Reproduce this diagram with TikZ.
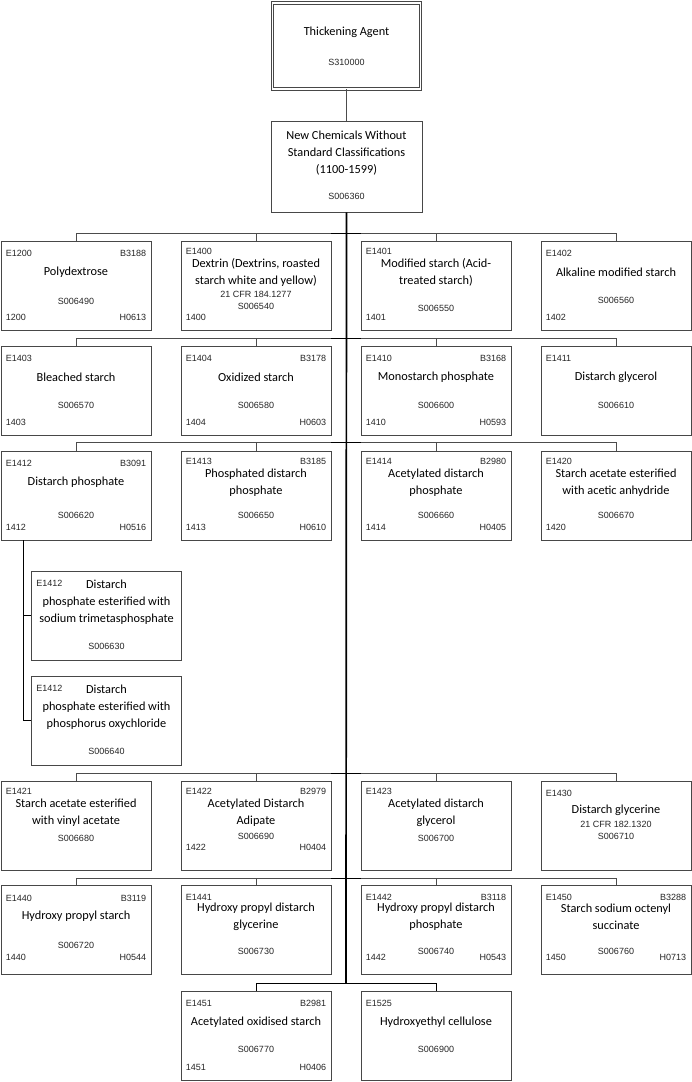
\documentclass[tikz,border=0pt]{standalone}
\usepackage{fontspec}
\setmainfont{Carlito}
\newfontfamily\codefont{Liberation Sans}

\tikzset{
  boxline/.style={draw=black!72, line width=0.9pt},
  entity/.style={boxline, fill=white, minimum width=150pt, minimum height=89pt, inner sep=0pt},
  codetext/.style={font=\codefont\fontsize{9}{10}\selectfont, text=black!85, inner sep=0pt},
  ttl/.style={font=\fontsize{12.3}{17}\selectfont, align=center, inner sep=0pt},
  bus/.style={draw=black!70, line width=0.8pt},
  busdark/.style={draw=black, line width=0.9pt},
  trunk/.style={draw=black, line width=1.7pt},
}

% offsets inside a box, measured from its top (e: codes, t: title, s: S-code) and bottom (n)
\pgfkeys{/ebox/.cd, e/.store in=\eboxE, t/.store in=\eboxT, s/.store in=\eboxS, n/.store in=\eboxN}
\newcommand{\ebox}[9][]{%
  \pgfkeys{/ebox/.cd, e=13, t=32, s=63, n=13, #1}%
  \node[entity] (#2) at (#3) {};
  \node[codetext, anchor=west] (#2-e) at ([xshift=5pt, yshift=-\eboxE pt]#2.north west) {#4};
  \node[codetext, anchor=east] (#2-b) at ([xshift=-5pt, yshift=-\eboxE pt]#2.north east) {#5};
  \node[ttl] (#2-t) at ([yshift=-\eboxT pt]#2.north) {#6};
  \node[codetext] (#2-s) at ([yshift=-\eboxS pt]#2.north) {#7};
  \node[codetext, anchor=west] (#2-n) at ([xshift=5pt, yshift=\eboxN pt]#2.south west) {#8};
  \node[codetext, anchor=east] (#2-h) at ([xshift=-5pt, yshift=\eboxN pt]#2.south east) {#9};
}

\begin{document}
\begin{tikzpicture}[x=1pt, y=-1pt]
  \useasboundingbox (0,0) rectangle (692,1082);

  % --- head of the tree ---
  \node[entity, double=white, double distance=1.5pt, minimum width=148pt, minimum height=86pt]
    (thick) at (346.5,46) {};
  \node[ttl] (thick-t) at ([yshift=-30pt]thick.north) {Thickening Agent};
  \node[codetext] (thick-s) at ([yshift=-60pt]thick.north) {S310000};

  \node[entity, minimum width=151pt, minimum height=91pt] (newchem) at (346.5,166.5) {};
  \node[ttl] (newchem-t) at ([yshift=-33pt]newchem.north)
    {New Chemicals Without\\Standard Classifications\\(1100-1599)};
  \node[codetext] (newchem-s) at ([yshift=-76pt]newchem.north) {S006360};

  % --- bus points on the trunk ---
  \coordinate (bus1) at (346,233);
  \coordinate (bus2) at (346,338);
  \coordinate (bus3) at (346,442);
  \coordinate (bus4) at (346,773);
  \coordinate (bus5) at (346,878);
  \coordinate (bus6) at (346,983);

  % --- row 1 ---
  \ebox[s=61]{polyd}{76,285.5}{E1200}{B3188}{Polydextrose}{S006490}{1200}{H0613}
  \ebox[e=11, s=66]{dextrin}{256,285.5}{E1400}{}{Dextrin (Dextrins, roasted\\starch white and yellow)}{S006540}{1400}{}
  \node[codetext] (dextrin-c) at ([yshift=-54pt]dextrin.north) {21 CFR 184.1277};
  \ebox[e=11, s=68]{modst}{436,285.5}{E1401}{}{Modified starch (Acid-\\treated starch)}{S006550}{1401}{}
  \ebox[s=60]{alkst}{616,285.5}{E1402}{}{Alkaline modified starch}{S006560}{1402}{}

  % --- row 2 ---
  \ebox[s=60]{bleach}{76,390.5}{E1403}{}{Bleached starch}{S006570}{1403}{}
  \ebox[s=60]{oxid}{256,390.5}{E1404}{B3178}{Oxidized starch}{S006580}{1404}{H0603}
  \ebox[s=60]{monoph}{436,390.5}{E1410}{B3168}{Monostarch phosphate}{S006600}{1410}{H0593}
  \ebox[s=60]{dglyol}{616,390.5}{E1411}{}{Distarch glycerol}{S006610}{}{}

  % --- row 3 ---
  \ebox[s=65]{dphos}{76,495.5}{E1412}{B3091}{Distarch phosphate}{S006620}{1412}{H0516}
  \ebox[e=11, s=65]{phdphos}{256,495.5}{E1413}{B3185}{Phosphated distarch\\phosphate}{S006650}{1413}{H0610}
  \ebox[e=11, s=65]{acdphos}{436,495.5}{E1414}{B2980}{Acetylated distarch\\phosphate}{S006660}{1414}{H0405}
  \ebox[e=11, s=65]{acanh}{616,495.5}{E1420}{}{Starch acetate esterified\\with acetic anhydride}{S006670}{1420}{}

  % --- sub-entries of E1412 ---
  \ebox[s=76]{dphosA}{106.5,615.5}{E1412}{}{Distarch\\phosphate esterified with\\sodium trimetasphosphate}{S006630}{}{}
  \ebox[s=76]{dphosB}{106.5,720.5}{E1412}{}{Distarch\\phosphate esterified with\\phosphorus oxychloride}{S006640}{}{}

  % --- row 4 ---
  \ebox[e=11, s=58, n=23]{vinyl}{76,825.5}{E1421}{}{Starch acetate esterified\\with vinyl acetate}{S006680}{}{}
  \ebox[e=11, s=56, n=23]{adip}{256,825.5}{E1422}{B2979}{Acetylated Distarch\\Adipate}{S006690}{1422}{H0404}
  \ebox[e=11, s=58, n=23]{acglyol}{436,825.5}{E1423}{}{Acetylated distarch\\glycerol}{S006700}{}{}
  \ebox[t=30, s=56, n=23]{dglyne}{616,825.5}{E1430}{}{Distarch glycerine}{S006710}{}{}
  \node[codetext] (dglyne-c) at ([yshift=-44pt]dglyne.north) {21 CFR 182.1320};

  % --- row 5 ---
  \ebox[e=14, s=61, n=17]{hpst}{76,929.5}{E1440}{B3119}{Hydroxy propyl starch}{S006720}{1440}{H0544}
  \ebox[s=67, n=17]{hpgly}{256,929.5}{E1441}{}{Hydroxy propyl distarch\\glycerine}{S006730}{}{}
  \ebox[s=67, n=17]{hpphos}{436,929.5}{E1442}{B3118}{Hydroxy propyl distarch\\phosphate}{S006740}{1442}{H0543}
  \ebox[s=67, n=17]{octen}{616,929.5}{E1450}{B3288}{Starch sodium octenyl\\succinate}{S006760}{1450}{H0713}

  % --- row 6 ---
  \ebox[s=59]{acoxid}{256,1035.5}{E1451}{B2981}{Acetylated oxidised starch}{S006770}{1451}{H0406}
  \ebox[s=59]{hecell}{436,1035.5}{E1525}{}{Hydroxyethyl cellulose}{S006900}{}{}

  % --- connectors ---
  \draw[bus] (thick.south) -- (newchem.north);
  \draw[trunk] (newchem.south) -- (bus6);

  \foreach \row/\a/\b/\c/\d in {bus1/polyd/dextrin/modst/alkst,
                                bus2/bleach/oxid/monoph/dglyol,
                                bus3/dphos/phdphos/acdphos/acanh,
                                bus4/vinyl/adip/acglyol/dglyne,
                                bus5/hpst/hpgly/hpphos/octen} {
    \draw[bus] (\row) -| (\a.north);
    \draw[bus] (\row) -| (\b.north);
    \draw[bus] (\row) -| (\c.north);
    \draw[bus] (\row) -| (\d.north);
    \draw[busdark] ([xshift=-15pt]\row) -- ([xshift=15pt]\row);
  }
  \draw[busdark] (bus6) -| (acoxid.north);
  \draw[busdark] (bus6) -| (hecell.north);

  % E1412 branches
  \coordinate (dphos-foot) at ([xshift=-53pt]dphos.south);
  \draw[busdark] (dphos-foot) |- (dphosA.west);
  \draw[busdark] (dphos-foot) |- (dphosB.west);
\end{tikzpicture}
\end{document}
